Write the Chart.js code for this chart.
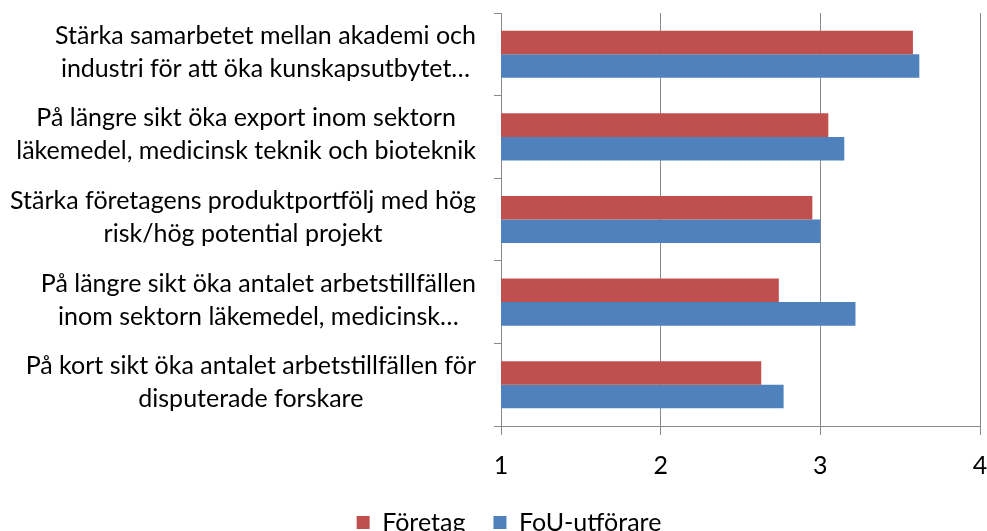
<!DOCTYPE html>
<html>
<head>
<meta charset="utf-8">
<script src="https://cdn.jsdelivr.net/npm/chart.js@4.4.0/dist/chart.umd.min.js"></script>
<style>
  html, body { margin: 0; padding: 0; background: #fff; overflow: hidden; }
  #wrap { position: relative; width: 987px; height: 531px; overflow: hidden; }
  #box { position: absolute; left: 0; top: 0; width: 987px; height: 545px; }
</style>
</head>
<body>
<div id="wrap"><div id="box"><canvas id="chart"></canvas></div></div>
<script>
const categories = [
    ['Stärka samarbetet mellan akademi och', 'industri för att öka kunskapsutbytet…'],
    ['På längre sikt öka export inom sektorn', 'läkemedel, medicinsk teknik och bioteknik'],
    ['Stärka företagens produktportfölj med hög', 'risk/hög potential projekt'],
    ['På längre sikt öka antalet arbetstillfällen', 'inom sektorn läkemedel, medicinsk…'],
    ['På kort sikt öka antalet arbetstillfällen för', 'disputerade forskare']
];
const seriesNames = ['Företag', 'FoU-utförare'];
const foretag = [3.58, 3.05, 2.95, 2.74, 2.63];
const fouUtforare = [3.62, 3.15, 3.00, 3.22, 2.77];
const xTicks = [1, 2, 3, 4];

const FONT_FAMILY = "Lato, 'Open Sans', sans-serif";
const FONT_SIZE = 25;
const LINE_HEIGHT = 33;
const GRID = '#8a8a8a';

// Excel-style category labels: block right-aligned, lines centred in the block
const categoryLabels = {
    id: 'categoryLabels',
    afterDraw(chart) {
        const ctx = chart.ctx;
        const yScale = chart.scales.y;
        const right = chart.chartArea.left - 25;
        ctx.save();
        ctx.font = FONT_SIZE + 'px ' + FONT_FAMILY;
        ctx.fillStyle = '#000';
        ctx.textAlign = 'center';
        ctx.textBaseline = 'middle';
        categories.forEach((lines, i) => {
            const widest = Math.max(...lines.map(l => ctx.measureText(l).width));
            const cx = right - widest / 2;
            const cy = yScale.getPixelForValue(i) - 2;
            lines.forEach((line, k) => {
                ctx.fillText(line, cx, cy + (k - (lines.length - 1) / 2) * LINE_HEIGHT);
            });
        });
        ctx.restore();
    }
};

new Chart(document.getElementById('chart'), {
    type: 'bar',
    data: {
        labels: categories.map(c => c.join(' ')),
        datasets: [{
            label: seriesNames[0],
            data: foretag,
            backgroundColor: '#C0504D',
            borderWidth: 0
        }, {
            label: seriesNames[1],
            data: fouUtforare,
            backgroundColor: '#4F81BD',
            borderWidth: 0
        }]
    },
    options: {
        indexAxis: 'y',
        responsive: true,
        maintainAspectRatio: false,
        animation: false,
        datasets: {
            bar: {
                categoryPercentage: 0.57,
                barPercentage: 1.0
            }
        },
        layout: {
            padding: { top: 13, left: 38, right: 7, bottom: 0 }
        },
        plugins: {
            legend: {
                position: 'bottom',
                labels: {
                    boxWidth: 13,
                    boxHeight: 13,
                    padding: 28,
                    color: '#000',
                    font: { family: FONT_FAMILY, size: FONT_SIZE }
                }
            },
            tooltip: { enabled: false }
        },
        scales: {
            x: {
                type: 'linear',
                min: xTicks[0],
                max: xTicks[xTicks.length - 1],
                afterBuildTicks: (scale) => {
                    scale.ticks = xTicks.map(v => ({ value: v }));
                },
                afterFit: (scale) => {
                    scale.paddingLeft = 0;
                    scale.paddingRight = 0;
                    scale.height -= 15;
                },
                ticks: {
                    color: '#000',
                    padding: 16,
                    font: { family: FONT_FAMILY, size: FONT_SIZE }
                },
                grid: {
                    color: GRID,
                    tickLength: 9,
                    drawOnChartArea: true
                },
                border: { display: true, color: GRID }
            },
            y: {
                type: 'category',
                ticks: { display: false },
                grid: {
                    color: GRID,
                    offset: true,
                    drawOnChartArea: false,
                    drawTicks: true,
                    tickLength: 7
                },
                border: { display: true, color: GRID },
                afterFit: (scale) => {
                    scale.width = 463;
                }
            }
        }
    },
    plugins: [categoryLabels]
});
</script>
</body>
</html>
